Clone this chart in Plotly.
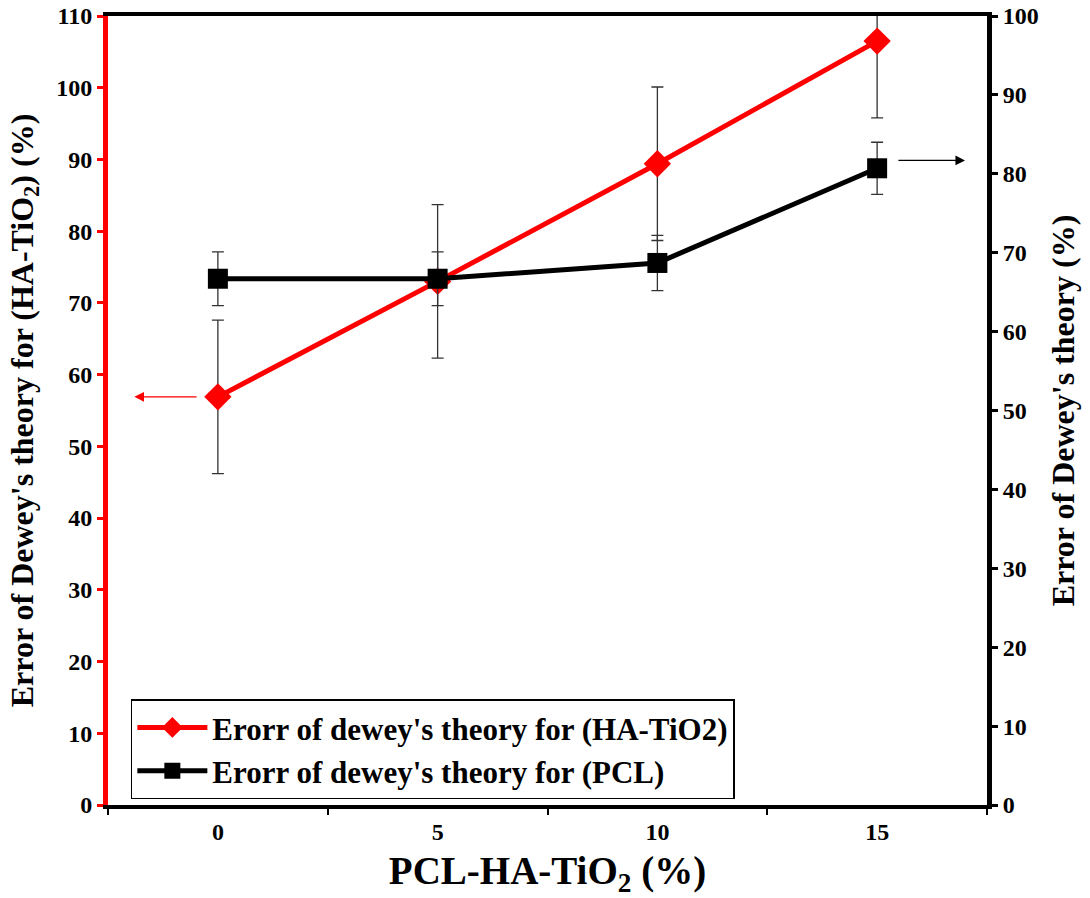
import plotly.graph_objects as go

# Data
x_vals = [0, 5, 10, 15]
x_labels = ["0", "5", "10", "15"]
ha_tio2 = [56.9, 73.0, 89.4, 106.5]      # left axis (%)
ha_tio2_err = [10.7, 10.7, 10.7, 10.7]
pcl = [66.7, 66.7, 68.7, 80.7]            # right axis (%)
pcl_err = [3.4, 3.4, 3.5, 3.3]

FONT = "Liberation Serif"
step = x_vals[1] - x_vals[0]
boundaries = [v - step / 2 for v in x_vals] + [x_vals[-1] + step / 2]

fig = go.Figure()
fig.add_trace(go.Scatter(
    x=x_vals, y=ha_tio2, mode="lines+markers",
    name="Erorr of dewey's theory for (HA-TiO2)",
    line=dict(color="#ff0000", width=5),
    marker=dict(symbol="diamond", size=21, color="#ff0000"),
    error_y=dict(type="data", array=ha_tio2_err, color="#333333", thickness=1.3, width=6),
    yaxis="y",
))
fig.add_trace(go.Scatter(
    x=x_vals, y=pcl, mode="lines+markers",
    name="Erorr of dewey's theory for (PCL)",
    line=dict(color="#000000", width=5),
    marker=dict(symbol="square", size=20, color="#000000"),
    error_y=dict(type="data", array=pcl_err, color="#333333", thickness=1.3, width=6),
    yaxis="y2",
))

# Arrows pointing to the corresponding axes
fig.add_annotation(x=x_vals[0] - 1.9, y=ha_tio2[0], ax=x_vals[0] - 0.45, ay=ha_tio2[0],
                   xref="x", yref="y", axref="x", ayref="y", text="", showarrow=True,
                   arrowhead=2, arrowsize=1.6, arrowwidth=1.2, arrowcolor="#ff0000")
fig.add_annotation(x=x_vals[-1] + 2.0, y=pcl[-1] + 1.0, ax=x_vals[-1] + 0.45, ay=pcl[-1] + 1.0,
                   xref="x", yref="y2", axref="x", ayref="y2", text="", showarrow=True,
                   arrowhead=2, arrowsize=1.6, arrowwidth=1.2, arrowcolor="#000000")

fig.update_layout(
    width=1090, height=898,
    margin=dict(l=108, r=103, t=16, b=93),
    paper_bgcolor="white", plot_bgcolor="white",
    font=dict(family=FONT, color="black"),
    showlegend=True,
    legend=dict(
        x=0.026, y=0.134, xanchor="left", yanchor="top",
        bordercolor="black", borderwidth=1.5, bgcolor="white",
        font=dict(family=FONT, size=31, color="black", weight="bold"),
        itemwidth=70, tracegroupgap=0, indentation=0,
    ),
    xaxis=dict(
        range=[boundaries[0], boundaries[-1]],
        tickmode="array", tickvals=x_vals, ticktext=x_labels, ticks="",
        ticklabelstandoff=2,
        tickfont=dict(family=FONT, size=24, color="black", weight="bold"),
        showgrid=False, zeroline=False, automargin=False,
        showline=True, linecolor="black", linewidth=4, mirror=True,
        minor=dict(tickmode="array", tickvals=boundaries, ticks="outside",
                   ticklen=6, tickwidth=1.5, tickcolor="black", showgrid=False),
        title=dict(text="PCL-HA-TiO<sub>2</sub> (%)",
                   font=dict(family=FONT, size=39, color="black", weight="bold")),
    ),
    yaxis=dict(
        range=[0, 110], tickmode="linear", tick0=0, dtick=10,
        ticks="outside", ticklen=6, tickwidth=3, tickcolor="#ff0000",
        tickfont=dict(family=FONT, size=24, color="black", weight="bold"),
        showgrid=False, zeroline=False, automargin=False,
        showline=True, linecolor="#ff0000", linewidth=5,
        title=dict(text="Error of Dewey's theory for (HA-TiO<sub>2</sub>) (%)",
                   font=dict(family=FONT, size=32, color="black", weight="bold")),
    ),
    yaxis2=dict(
        range=[0, 100], tickmode="linear", tick0=0, dtick=10,
        overlaying="y", side="right",
        ticks="outside", ticklen=6, tickwidth=3, tickcolor="black",
        tickfont=dict(family=FONT, size=24, color="black", weight="bold"),
        showgrid=False, zeroline=False, automargin=False,
        showline=True, linecolor="black", linewidth=5,
        title=dict(text="Error of Dewey's theory (%)",
                   font=dict(family=FONT, size=32, color="black", weight="bold")),
    ),
)

fig.write_html("out.html")
